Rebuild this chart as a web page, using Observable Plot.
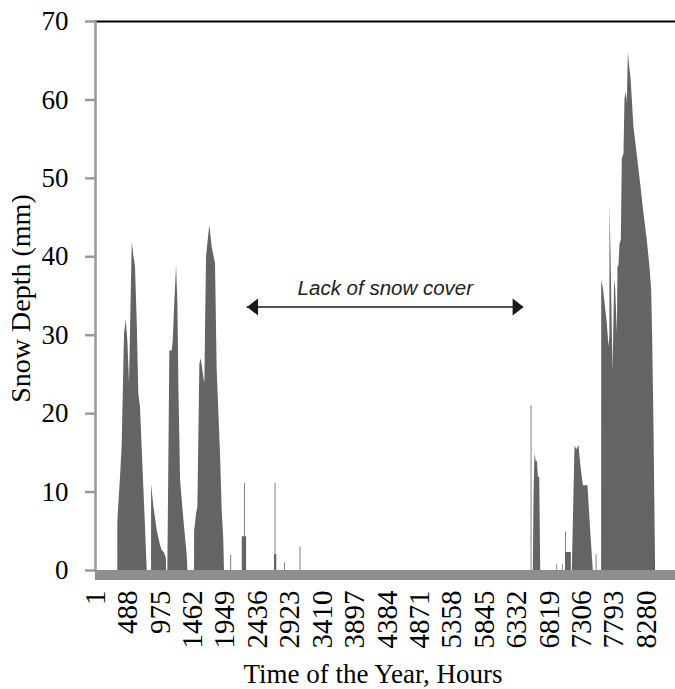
<!DOCTYPE html>
<html>
<head>
<meta charset="utf-8">
<script src="https://cdn.jsdelivr.net/npm/d3@7"></script>
<script src="https://cdn.jsdelivr.net/npm/@observablehq/plot@0.6"></script>
<style>
  html, body { margin: 0; padding: 0; background: #fff; }
  #chart { width: 675px; height: 689px; }
</style>
</head>
<body>
<div id="chart"></div>
<script>
// Hourly snow depth over one year, as [hour, depth in mm] breakpoints.
const januaryToApril = [
  [1, 0], [336, 0], [337, 6.4], [377, 11.9], [402, 15.9], [437, 30.2], [462, 31.9], [487, 29.3],
  [512, 23.8], [553, 41.9], [577, 40.1], [602, 38.7], [627, 31.9], [652, 22.5], [677, 20.8],
  [702, 15.7], [727, 10.6], [752, 5.5], [778, 0],
  [843, 0], [844, 11.0], [878, 8.1], [928, 5.1], [978, 3.2], [1000, 2.6], [1040, 2.2], [1066, 1.5], [1068, 0],
  [1088, 0], [1118, 28.0], [1154, 28.0], [1169, 29.3], [1194, 34.4], [1219, 38.9], [1239, 34.0],
  [1254, 23.4], [1279, 11.5], [1329, 6.4], [1379, 1.9], [1388, 0],
  [1489, 0], [1490, 4.9], [1519, 7.2], [1539, 8.0], [1569, 26.3], [1589, 27.0], [1629, 24.6],
  [1644, 23.8], [1669, 40.0], [1704, 42.9], [1719, 44.0], [1754, 41.2], [1804, 39.1], [1829, 25.5],
  [1879, 14.9], [1904, 7.7], [1929, 3.8], [1939, 0],
  [2034, 0], [2034, 1.9], [2046, 1.9], [2046, 0],
  [2206, 0], [2206, 4.3], [2240, 4.3], [2240, 11.1], [2252, 11.1], [2252, 4.3], [2271, 4.3], [2271, 0],
  [2690, 0], [2690, 2.0], [2700, 2.0], [2700, 11.1], [2712, 11.1], [2712, 2.0], [2725, 2.0], [2725, 0],
  [2840, 0], [2840, 1.0], [2852, 1.0], [2852, 0],
  [3075, 0], [3075, 3.0], [3087, 3.0], [3087, 0]
];

const octoberToDecember = [
  [6546, 0], [6546, 21.0], [6558, 21.0], [6558, 0],
  [6579, 0], [6590, 9.8], [6604, 14.9], [6625, 13.8], [6640, 14.0], [6655, 11.9], [6675, 11.9], [6690, 0],
  [6934, 0], [6934, 0.8], [6944, 0.8], [6944, 0],
  [7018, 0], [7018, 0.8], [7028, 0.8], [7028, 0],
  [7062, 0], [7062, 4.9], [7074, 4.9], [7074, 2.3], [7150, 2.3], [7150, 0],
  [7165, 0], [7205, 15.9], [7230, 15.4], [7265, 15.9], [7290, 13.6], [7330, 10.8], [7400, 10.8],
  [7440, 5.1], [7480, 0],
  [7523, 0], [7523, 2.0], [7535, 2.0], [7535, 0],
  [7605, 0], [7607, 37.0], [7631, 36.0], [7691, 31.4], [7716, 28.5], [7729, 30.0], [7731, 46.8],
  [7751, 37.8], [7776, 25.3], [7801, 37.0], [7816, 36.0], [7841, 30.2], [7851, 38.7], [7866, 38.9],
  [7881, 41.6], [7901, 42.1], [7916, 52.5], [7941, 53.1], [7956, 60.1], [7976, 61.0], [7991, 59.5],
  [8006, 66.0], [8026, 64.2], [8046, 62.9], [8091, 56.5], [8141, 52.9], [8191, 49.3], [8241, 45.5],
  [8291, 42.1], [8331, 38.7], [8356, 35.9], [8371, 30.2], [8391, 18.7], [8416, 0],
  [8760, 0]
];

const hourTicks = [1, 488, 975, 1462, 1949, 2436, 2923, 3410, 3897, 4384, 4871, 5358, 5845, 6332, 6819, 7306, 7793, 8280];
const depthTicks = [0, 10, 20, 30, 40, 50, 60, 70];

// Snow-free period marked by a double-headed arrow
const snowFreeLabel = "Lack of snow cover";
const snowFreeStart = 2278;
const snowFreeEnd = 6433;
const snowFreeArrowDepth = 33.6;

const xLabel = "Time of the Year, Hours";
const yLabel = "Snow Depth (mm)";

const snow = [...januaryToApril, ...octoberToDecember].map(([hour, depth]) => ({hour, depth}));

const headRight = {
  draw(context) {
    context.moveTo(0, 0);
    context.lineTo(-11, -8.5);
    context.lineTo(-11, 8.5);
    context.closePath();
  }
};
const headLeft = {
  draw(context) {
    context.moveTo(0, 0);
    context.lineTo(11, -8.5);
    context.lineTo(11, 8.5);
    context.closePath();
  }
};

const chart = Plot.plot({
  width: 675,
  height: 689,
  marginLeft: 95,
  marginRight: -3,
  marginTop: 21,
  marginBottom: 119,
  style: {fontFamily: "Liberation Serif", background: "#fff", color: "#000"},
  x: {domain: [1, 8760], axis: null},
  y: {domain: [0, 70], axis: null},
  marks: [
    // y1/y2 rather than y so that repeated hours (sudden snowfall steps) are not stacked
    Plot.areaY(snow, {x: "hour", y1: 0, y2: "depth", fill: "#646464", curve: "linear"}),
    // ground line along zero depth
    Plot.ruleY([0], {stroke: "#8e8e8e", strokeWidth: 10, dy: 4.5}),
    // top boundary of the plot area
    Plot.ruleY([70], {stroke: "#000", strokeWidth: 2}),
    // vertical axis line
    Plot.ruleX([1], {y1: 0, y2: 70, stroke: "#9a9a9a", strokeWidth: 2.5}),
    Plot.axisY({
      ticks: depthTicks,
      tickSize: 10,
      tickPadding: 17,
      fontSize: 27,
      stroke: "#9a9a9a",
      strokeWidth: 2.5,
      fill: "#000",
      label: null
    }),
    Plot.text(hourTicks, {
      x: d => d,
      text: d => String(d),
      frameAnchor: "bottom",
      rotate: -90,
      textAnchor: "end",
      lineAnchor: "middle",
      dy: 20,
      fontSize: 29,
      fill: "#000"
    }),
    Plot.text([xLabel], {
      frameAnchor: "bottom",
      dx: -14,
      dy: 112,
      lineAnchor: "bottom",
      fontSize: 27,
      fill: "#000"
    }),
    Plot.text([yLabel], {
      frameAnchor: "left",
      rotate: -90,
      textAnchor: "middle",
      dx: -66,
      dy: 2.5,
      lineAnchor: "bottom",
      fontSize: 28,
      fill: "#000"
    }),
    // annotation
    Plot.ruleY([snowFreeArrowDepth], {x1: snowFreeStart, x2: snowFreeEnd, stroke: "#1a1a1a", strokeWidth: 1.6}),
    Plot.dot([snowFreeEnd], {x: d => d, y: snowFreeArrowDepth, symbol: headRight, r: 5, fill: "#1a1a1a", stroke: null}),
    Plot.dot([snowFreeStart], {x: d => d, y: snowFreeArrowDepth, symbol: headLeft, r: 5, fill: "#1a1a1a", stroke: null}),
    Plot.text([snowFreeLabel], {
      x: (snowFreeStart + snowFreeEnd) / 2,
      y: snowFreeArrowDepth,
      dy: -12,
      lineAnchor: "bottom",
      fontFamily: "Liberation Sans",
      fontStyle: "italic",
      fontSize: 20.5,
      fill: "#222"
    })
  ]
});

// The axis title sits at the left edge of the figure, where its tops are trimmed.
const svg = d3.select(chart);
const clipId = "left-edge-clip";
svg.append("defs").append("clipPath").attr("id", clipId)
  .append("rect").attr("x", 12).attr("y", 0).attr("width", 675).attr("height", 689);
const clipGroup = svg.append("g").attr("clip-path", `url(#${clipId})`);
svg.selectAll("text").filter(function () { return this.textContent === yLabel; })
  .each(function () { clipGroup.node().appendChild(this.parentNode); });

document.getElementById("chart").appendChild(chart);
</script>
</body>
</html>
